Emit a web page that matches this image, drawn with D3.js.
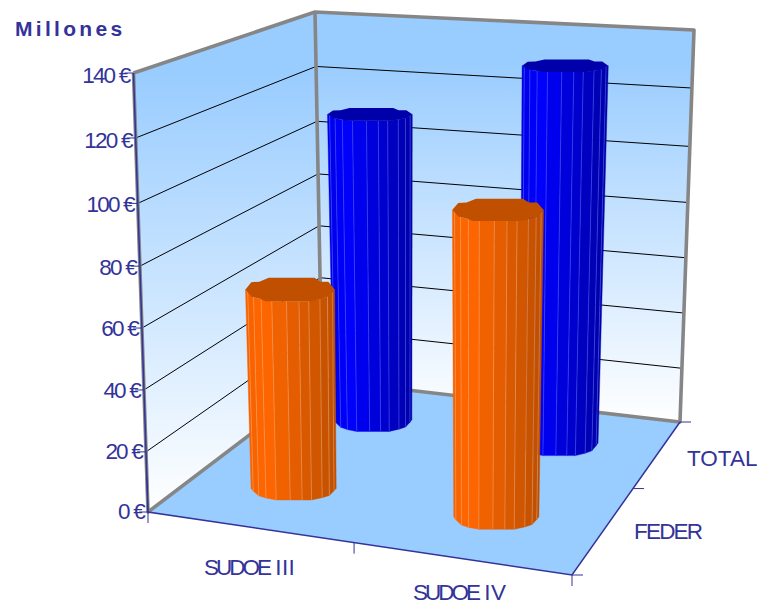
<!DOCTYPE html>
<html><head><meta charset="utf-8">
<script src="https://cdnjs.cloudflare.com/ajax/libs/d3/7.8.5/d3.min.js"></script>
<style>html,body{margin:0;padding:0;background:#fff}svg{display:block}text{font-family:"Liberation Sans",Arial,sans-serif;fill:#333399}</style>
</head><body><svg id="c" width="757" height="605"></svg>
<script>
// Data
const programmes = ["SUDOE III", "SUDOE IV"];
const funds = ["FEDER", "TOTAL"];
const federValues = [67, 100];
const totalValues = [111, 132];
const valueTicks = [0, 20, 40, 60, 80, 100, 120, 140];
const valueTickLabels = ["0 €", "20 €", "40 €", "60 €", "80 €", "100 €", "120 €", "140 €"];
const axisTitle = "Millones";

// Perspective frame of the 3D box
const F = {A:[148,512],B:[322,380],C:[680,422],D:[572,575],At:[133.5,73],Bt:[315,12],Ct:[694,30],Dt:[577,112]};
const lerp = (a,b,t)=>[a[0]+(b[0]-a[0])*t,a[1]+(b[1]-a[1])*t];
const xFrac = d3.scaleLinear().domain([0,1,2]).range([0,.486,1]);
const zFrac = d3.scaleLinear().domain([0,1,2]).range([0,.565,1]);
const yFrac = d3.scaleLinear().domain(valueTicks).range([0,.137,.278,.419,.56,.703,.852,1]);
function project(x,f,z){
  const base = lerp(lerp(F.A,F.D,x),lerp(F.B,F.C,x),z);
  const top = lerp(lerp(F.At,F.Dt,x),lerp(F.Bt,F.Ct,x),z);
  return lerp(base,top,f);
}
const svg = d3.select("#c");
const defs = svg.append("defs");
const wall = defs.append("linearGradient").attr("id","wall").attr("x1",0).attr("y1",0).attr("x2",0).attr("y2",1);
wall.append("stop").attr("offset",0).attr("stop-color","#99ccff");
wall.append("stop").attr("offset",.12).attr("stop-color","#99ccff");
wall.append("stop").attr("offset",1).attr("stop-color","#ffffff");
const poly = pts=>pts.map(p=>p.map(v=>v.toFixed(2)).join(",")).join(" ");
const line = d3.line();
// walls
svg.append("polygon").attr("points",poly([F.A,F.At,F.Bt,F.B])).attr("fill","url(#wall)");
svg.append("polygon").attr("points",poly([F.B,F.Bt,F.Ct,F.C])).attr("fill","url(#wall)");
svg.append("polygon").attr("points",poly([F.A,F.B,F.C,F.D])).attr("fill","#99ccff");
// gridlines
svg.append("g").selectAll("path").data(valueTicks.slice(1,-1)).join("path")
  .attr("d",v=>{const f=yFrac(v);return line([project(0,f,0),project(0,f,1),project(1,f,1)]);})
  .attr("fill","none").attr("stroke","#000").attr("stroke-width",1);
// gray frame
const gray = "#868686";
svg.append("path").attr("d",line([F.At,F.Bt,F.Ct,F.C,F.B,F.A,F.At])).attr("fill","none").attr("stroke",gray).attr("stroke-width",3.6).attr("stroke-linejoin","round");
svg.append("path").attr("d",line([F.Bt,F.B])).attr("fill","none").attr("stroke",gray).attr("stroke-width",3.6);
// axes
const navy="#333399";
const axes=svg.append("g").attr("stroke",navy).attr("fill","none");
axes.append("path").attr("d",line([F.At,F.A,F.D,F.C])).attr("stroke-width",1.5);
axes.append("path").attr("d",line([lerp(F.A,F.At,.08),F.A])).attr("stroke-width",1);
valueTicks.forEach(v=>{const p=project(0,yFrac(v),0);axes.append("path").attr("d",line([[p[0]-9,p[1]],p])).attr("stroke-width",1);});
[0,1,2].forEach(i=>{const p=project(xFrac(i),0,0);axes.append("path").attr("d",line([p,[p[0],p[1]+11]])).attr("stroke-width",1);});
[0,1,2].forEach(i=>{const p=project(1,0,zFrac(i));axes.append("path").attr("d",line([p,[p[0]+11,p[1]]])).attr("stroke-width",1);});
// columns
const capTop=[[-1,0],[-.87,-.62],[-.69,-.66],[-.48,-1],[.55,-1],[.68,-.66],[.86,-.66],[1,0]];
const capFront=[[-1,0],[-.87,.6],[-.69,.78],[-.55,1],[.49,1],[.86,.6],[1,0]];
const frontV=d3.scaleLinear().domain(capFront.map(d=>d[0])).range(capFront.map(d=>d[1]));
const facetU=[-1,-.95,-.82,-.65,-.41,-.08,.2,.42,.67,.84,.95,1];
const R=.105;
function column(g,pi,si,value,pal){
  const x=xFrac(pi+.5)-.005, z=zFrac(si+.5), f=yFrac(value);
  const c0=project(x,0,z), c1=project(x,f,z);
  const rx=t=>{const a=project(x-R,t,z),b=project(x+R,t,z);return (b[0]-a[0])/2*(1+.05*t);};
  const span=t=>Math.abs(project(x,t,z-.5)[1]-project(x,t,z+.5)[1]);
  const ry0=span(0)*.085, ry1=span(f)*(.085+(si===0?.028:-.007));
  const bot=u=>[c0[0]+u*rx(0),c0[1]+frontV(u)*ry0];
  const top=u=>[c1[0]+u*rx(f),c1[1]+frontV(u)*ry1];
  const col=d3.scaleLinear().domain([-1,-.6,1]).range(pal.body);
  for(let i=0;i<facetU.length-1;i++){
    const u=facetU[i],w=facetU[i+1];
    g.append("polygon").attr("points",poly([top(u),top(w),bot(w),bot(u)])).attr("fill",col((u+w)/2)).attr("stroke",col((u+w)/2)).attr("stroke-width",.4);
    if(i>0) g.append("path").attr("d",line([top(u),bot(u)])).attr("stroke",pal.edge).attr("stroke-width",.8).attr("fill","none");
  }
  const outline=[...capTop.map(d=>[c1[0]+d[0]*rx(f),c1[1]+d[1]*ry1]),
    ...capFront.slice().reverse().slice(1,-1).map(d=>[c1[0]+d[0]*rx(f),c1[1]+d[1]*ry1])];
  g.append("polygon").attr("points",poly(outline)).attr("fill",pal.cap);
}
const blue={body:["#0000e6","#0000ff","#0000a8"],edge:"rgba(90,110,255,.6)",cap:"#0000ab"};
const orange={body:["#f56200","#ff6600","#bd4f00"],edge:"rgba(255,190,140,.5)",cap:"#c05000"};
const bars=svg.append("g");
totalValues.forEach((v,i)=>column(bars.append("g"),i,1,v,blue));
federValues.forEach((v,i)=>column(bars.append("g"),i,0,v,orange));
// labels
const fs=22.5;
svg.append("g").selectAll("text").data(valueTicks).join("text")
  .attr("x",v=>project(0,yFrac(v),0)[0]-4)
  .attr("y",v=>{const f=yFrac(v);return project(0,f,0)[1]+7+3*f;})
  .attr("text-anchor","end").attr("font-size",fs).attr("letter-spacing",-1.8)
  .text((v,i)=>valueTickLabels[i]);
svg.append("text").attr("x",15).attr("y",36).attr("font-size",21).attr("font-weight","bold").attr("letter-spacing",3.3).text(axisTitle);
const xl=[[204,575],[413,600]], zl=[[634,539,-1.8],[687,466,0]];
programmes.forEach((t,i)=>{
  const [a,b]=t.split(" ");
  const el=svg.append("text").attr("x",xl[i][0]).attr("y",xl[i][1]).attr("font-size",fs);
  el.append("tspan").attr("letter-spacing",-3).text(a+" ");
  el.append("tspan").attr("dx",3).attr("letter-spacing",.4).text(b);
});
funds.forEach((t,i)=>svg.append("text").attr("x",zl[i][0]).attr("y",zl[i][1]).attr("font-size",fs).attr("letter-spacing",zl[i][2]).text(t));
</script></body></html>
